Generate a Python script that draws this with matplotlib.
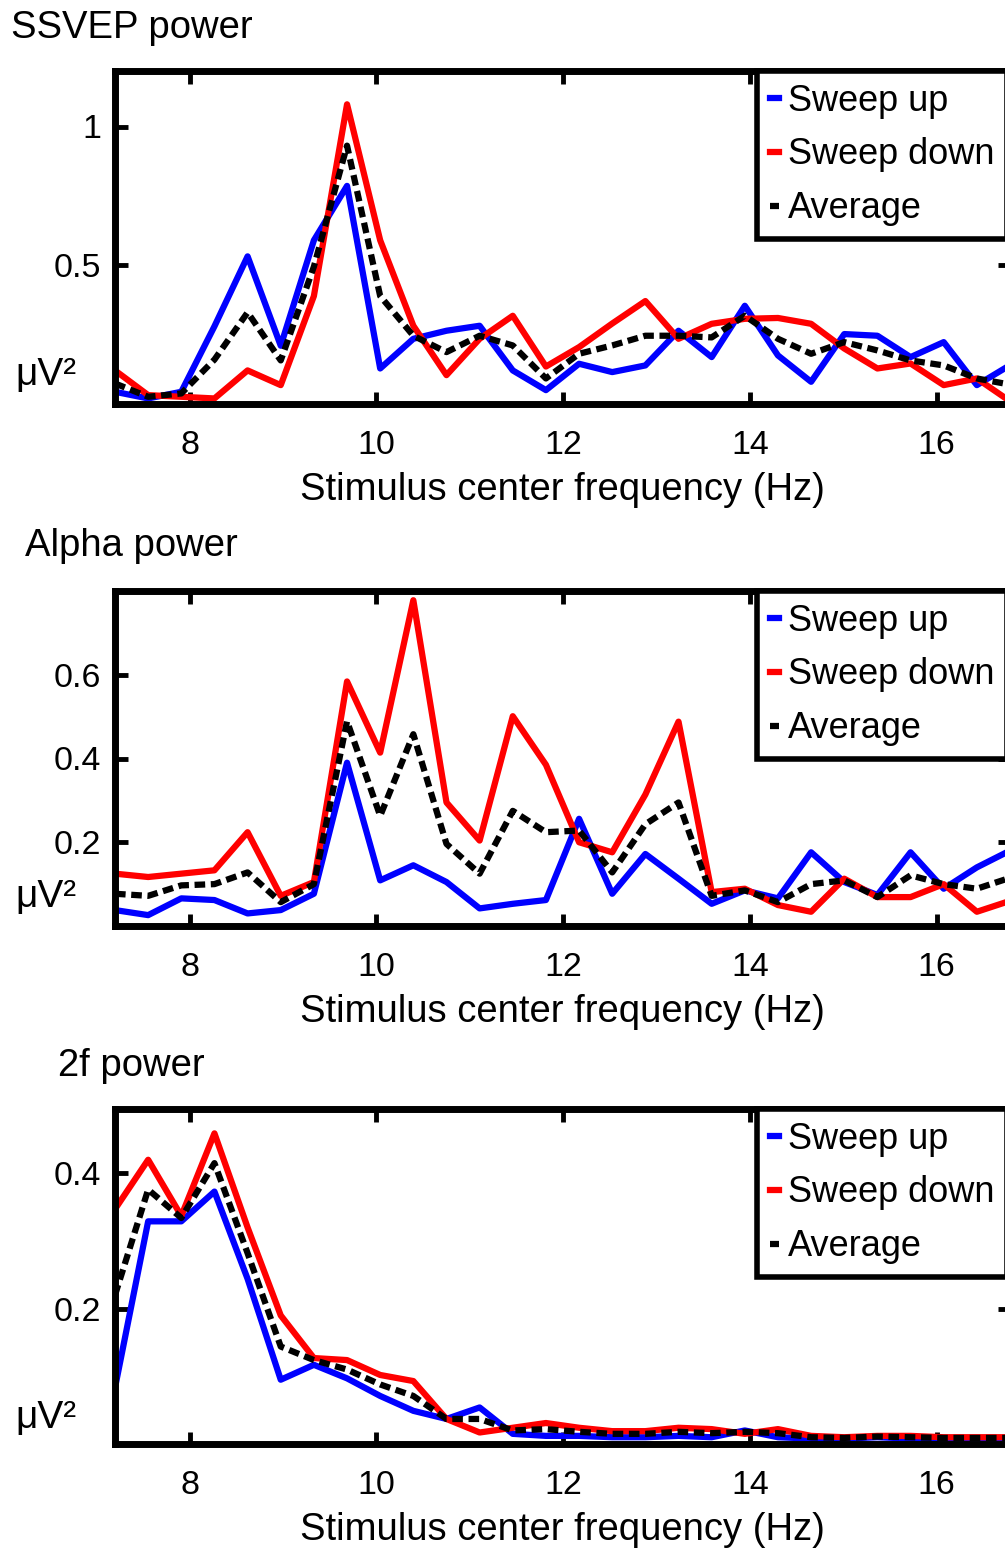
import matplotlib.pyplot as plt

plt.rcParams['font.family'] = ['Liberation Sans', 'DejaVu Sans']

# stimulus center frequencies (Hz)
freq = [7.20, 7.555, 7.91, 8.265, 8.62, 8.975, 9.33, 9.685, 10.04, 10.395,
        10.75, 11.105, 11.46, 11.815, 12.17, 12.525, 12.88, 13.235, 13.59,
        13.945, 14.30, 14.655, 15.01, 15.365, 15.72, 16.075, 16.43, 16.785]

ssvep_up = [0.044, 0.020, 0.044, 0.28, 0.532, 0.21, 0.59, 0.786, 0.128, 0.235,
            0.264, 0.282, 0.121, 0.05, 0.145, 0.115, 0.139, 0.264, 0.169, 0.354,
            0.175, 0.080, 0.252, 0.246, 0.169, 0.223, 0.068, 0.14]
ssvep_down = [0.121, 0.032, 0.026, 0.020, 0.121, 0.068, 0.389, 1.08, 0.59, 0.282,
              0.104, 0.235, 0.318, 0.135, 0.205, 0.29, 0.371, 0.235, 0.289, 0.307,
              0.31, 0.289, 0.2, 0.128, 0.146, 0.068, 0.092, 0.01]
ssvep_avg = [0.074, 0.026, 0.038, 0.16, 0.33, 0.157, 0.495, 0.931, 0.389, 0.246,
             0.187, 0.246, 0.211, 0.092, 0.181, 0.211, 0.246, 0.246, 0.24, 0.318,
             0.235, 0.181, 0.223, 0.193, 0.157, 0.139, 0.092, 0.07]

alpha_up = [0.038, 0.026, 0.066, 0.062, 0.030, 0.038, 0.077, 0.39, 0.109, 0.145,
            0.105, 0.042, 0.053, 0.062, 0.256, 0.077, 0.172, 0.113, 0.053, 0.085,
            0.066, 0.176, 0.105, 0.074, 0.176, 0.089, 0.14, 0.18]
alpha_down = [0.125, 0.117, 0.125, 0.133, 0.224, 0.072, 0.105, 0.584, 0.414, 0.778,
              0.295, 0.204, 0.501, 0.385, 0.2, 0.176, 0.314, 0.488, 0.081, 0.089,
              0.05, 0.034, 0.113, 0.069, 0.069, 0.1, 0.034, 0.06]
alpha_avg = [0.077, 0.072, 0.097, 0.1, 0.128, 0.057, 0.1, 0.489, 0.263, 0.458,
             0.196, 0.125, 0.275, 0.224, 0.228, 0.128, 0.243, 0.295, 0.072, 0.085,
             0.057, 0.1, 0.109, 0.069, 0.121, 0.1, 0.089, 0.115]

f2_up = [0.083, 0.329, 0.329, 0.373, 0.244, 0.095, 0.117, 0.097, 0.071, 0.049,
         0.037, 0.054, 0.015, 0.012, 0.012, 0.01, 0.01, 0.012, 0.01, 0.02,
         0.01, 0.008, 0.008, 0.01, 0.008, 0.008, 0.008, 0.008]
f2_down = [0.347, 0.42, 0.337, 0.459, 0.32, 0.19, 0.127, 0.124, 0.102, 0.093,
           0.037, 0.017, 0.024, 0.031, 0.024, 0.019, 0.019, 0.024, 0.022, 0.015,
           0.022, 0.012, 0.01, 0.012, 0.012, 0.01, 0.01, 0.01]
f2_avg = [0.22, 0.376, 0.334, 0.415, 0.282, 0.144, 0.124, 0.11, 0.088, 0.071,
          0.037, 0.037, 0.02, 0.022, 0.018, 0.015, 0.015, 0.018, 0.016, 0.018,
          0.016, 0.01, 0.009, 0.011, 0.01, 0.009, 0.009, 0.009]

titles = ['SSVEP power', 'Alpha power', '2f power']
series = [(ssvep_up, ssvep_down, ssvep_avg),
          (alpha_up, alpha_down, alpha_avg),
          (f2_up, f2_down, f2_avg)]
ylims = [(0, 1.2), (0, 0.8), (0, 0.495)]
yticks = [[0.5, 1], [0.2, 0.4, 0.6], [0.2, 0.4]]
ytick_labels = [['0.5', '1'], ['0.2', '0.4', '0.6'], ['0.2', '0.4']]
xticks = [8, 10, 12, 14, 16]

W, H = 1005, 1550
fig = plt.figure(figsize=(W / 100, H / 100), dpi=100)

# pixel layout of each panel: (top spine, bottom spine), title baseline, unit label baseline
panel_px = [(71, 404), (591, 926), (1109, 1444)]
title_base = [38, 556, 1076]
unit_base = [385, 907, 1428]
left_px, right_px = 115, 1010

for i in range(3):
    top, bot = panel_px[i]
    ax = fig.add_axes([left_px / W, 1 - bot / H, (right_px - left_px) / W, (bot - top) / H])
    up, down, avg = series[i]
    ax.plot(freq, up, color='#0000ff', lw=4.5, label='Sweep up')
    ax.plot(freq, down, color='#ff0000', lw=4.5, label='Sweep down')
    ax.plot(freq, avg, color='black', lw=4.5, dashes=(1.7, 0.9), label='Average')

    ax.set_xlim(freq[0], freq[-1])
    ax.set_ylim(*ylims[i])
    ax.set_xticks(xticks)
    ax.set_xticklabels([str(t) for t in xticks])
    ax.set_yticks(yticks[i])
    ax.set_yticklabels(ytick_labels[i])
    ax.tick_params(direction='in', length=9, width=3.5, top=True, right=True,
                   labelsize=24.5)
    ax.tick_params(axis='x', pad=19)
    ax.tick_params(axis='y', pad=10)
    for s in ax.spines.values():
        s.set_linewidth(5)
    ax.set_xlabel('Stimulus center frequency (Hz)', fontsize=27.5, labelpad=8)

    leg = ax.legend(loc='upper left', bbox_to_anchor=(757 / W, 1 - top / H),
                    bbox_transform=fig.transFigure, borderaxespad=0,
                    fontsize=26, handlelength=0.25, handletextpad=0.25,
                    borderpad=0.35, labelspacing=0.52, fancybox=False,
                    framealpha=1)
    leg.get_frame().set_edgecolor('black')
    leg.get_frame().set_linewidth(4)

    fig.text(131.5 / W, 1 - title_base[i] / H, titles[i], ha='center',
             va='baseline', fontsize=27.5)
    fig.text(15 / W, 1 - unit_base[i] / H, 'μV²', ha='left', va='baseline',
             fontsize=28)

fig.savefig('out.png', dpi=100)
